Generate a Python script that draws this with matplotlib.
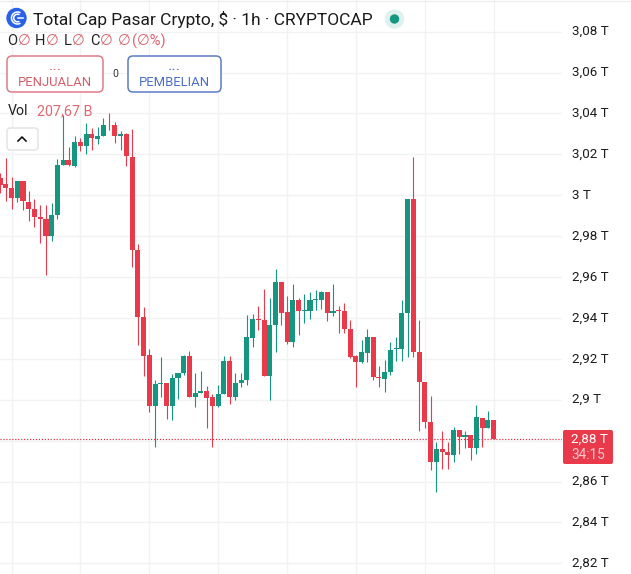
import matplotlib
matplotlib.use("Agg")
import matplotlib.pyplot as plt
import numpy as np
from matplotlib.patches import Arc, Circle, FancyBboxPatch
from matplotlib.transforms import ScaledTranslation

plt.rcParams["font.family"] = ["Roboto", "DejaVu Sans"]

# candle values in trillions
opens = [3.0084, 3.0056, 3.0036, 2.9986, 3.0071, 2.9968, 2.9934, 2.9895, 2.9885, 2.9802,
         2.9903, 3.0146, 3.0174, 3.0144, 3.0262, 3.0243, 3.0301, 3.0276, 3.0291, 3.0345,
         3.0345, 3.0288, 3.0301, 3.0189, 2.9733, 2.9404, 2.9218, 2.8971, 2.9078, 2.9081,
         2.8969, 2.9105, 2.9132, 2.9213, 2.9014, 2.9032, 2.9041, 2.9012, 2.8969, 2.9028,
         2.9190, 2.9015, 2.9082, 2.9097, 2.9303, 2.9394, 2.9390, 2.9114, 2.9366, 2.9576,
         2.9428, 2.9281, 2.9488, 2.9435, 2.9436, 2.9489, 2.9488, 2.9527, 2.9423, 2.9440,
         2.9435, 2.9346, 2.9213, 2.9183, 2.9229, 2.9307, 2.9110, 2.9104, 2.9135, 2.9246,
         2.9249, 2.9425, 2.9983, 2.9233, 2.9087, 2.8893, 2.8697, 2.8759, 2.8745, 2.8730,
         2.8851, 2.8819, 2.8826, 2.8765, 2.8912, 2.8864, 2.8899]
closes = [3.0051, 3.0037, 2.9986, 3.0071, 2.9970, 2.9932, 2.9893, 2.9886, 2.9802, 2.9903,
          3.0149, 3.0172, 3.0146, 3.0262, 3.0243, 3.0301, 3.0278, 3.0289, 3.0345, 3.0342,
          3.0288, 3.0301, 3.0190, 2.9733, 2.9407, 2.9216, 2.8971, 2.9078, 2.9082, 2.8971,
          2.9107, 2.9132, 2.9213, 2.9015, 2.9033, 2.9041, 2.9010, 2.8971, 2.9028, 2.9190,
          2.9015, 2.9082, 2.9097, 2.9307, 2.9397, 2.9389, 2.9114, 2.9366, 2.9576, 2.9426,
          2.9281, 2.9488, 2.9436, 2.9438, 2.9488, 2.9493, 2.9529, 2.9423, 2.9435, 2.9436,
          2.9346, 2.9209, 2.9183, 2.9232, 2.9307, 2.9112, 2.9105, 2.9137, 2.9243, 2.9251,
          2.9425, 2.9983, 2.9233, 2.9089, 2.8893, 2.8697, 2.8759, 2.8745, 2.8730, 2.8851,
          2.8818, 2.8826, 2.8765, 2.8914, 2.8864, 2.8899, 2.8806]
highs = [3.0108, 3.0182, 3.0089, 3.0071, 3.0071, 3.0021, 2.9983, 2.9954, 2.9954, 2.9962,
         3.0177, 3.0394, 3.0236, 3.0288, 3.0280, 3.0353, 3.0329, 3.0334, 3.0378, 3.0403,
         3.0357, 3.0312, 3.0304, 3.0324, 2.9762, 2.9453, 2.9246, 2.9097, 2.9208, 2.9081,
         2.9125, 2.9132, 2.9219, 2.9239, 2.9130, 2.9141, 2.9068, 2.9028, 2.9073, 2.9214,
         2.9214, 2.9130, 2.9130, 2.9415, 2.9420, 2.9458, 2.9540, 2.9496, 2.9639, 2.9576,
         2.9507, 2.9567, 2.9496, 2.9517, 2.9529, 2.9537, 2.9534, 2.9527, 2.9567, 2.9460,
         2.9471, 2.9390, 2.9219, 2.9292, 2.9346, 2.9307, 2.9165, 2.9195, 2.9284, 2.9305,
         2.9488, 2.9983, 3.0188, 2.9391, 2.9087, 2.9018, 2.8793, 2.8847, 2.8793, 2.8865,
         2.8851, 2.8847, 2.8826, 2.8974, 2.8912, 2.8945, 2.8899]
lows = [3.0011, 2.9970, 2.9934, 2.9965, 2.9926, 2.9872, 2.9847, 2.9769, 2.9608, 2.9777,
        2.9886, 3.0146, 3.0141, 3.0136, 3.0215, 3.0204, 3.0223, 3.0250, 3.0291, 3.0321,
        3.0258, 3.0223, 3.0141, 2.9651, 2.9267, 2.9114, 2.8941, 2.8770, 2.9015, 2.8905,
        2.8900, 2.9005, 2.9119, 2.9015, 2.8966, 2.9032, 2.8864, 2.8770, 2.8966, 2.9028,
        2.8981, 2.8999, 2.9064, 2.9073, 2.9259, 2.9341, 2.9114, 2.8999, 2.9235, 2.9366,
        2.9272, 2.9259, 2.9317, 2.9374, 2.9395, 2.9440, 2.9443, 2.9387, 2.9410, 2.9325,
        2.9328, 2.9204, 2.9063, 2.9178, 2.9185, 2.9097, 2.9063, 2.9037, 2.9123, 2.9191,
        2.9191, 2.9210, 2.9210, 2.8849, 2.8860, 2.8656, 2.8547, 2.8661, 2.8663, 2.8696,
        2.8735, 2.8764, 2.8706, 2.8735, 2.8770, 2.8864, 2.8806]

price_ticks = [3.08, 3.06, 3.04, 3.02, 3.00, 2.98, 2.96, 2.94, 2.92, 2.90, 2.88, 2.86, 2.84, 2.82]
price_labels = ["3,08 T", "3,06 T", "3,04 T", "3,02 T", "3 T", "2,98 T", "2,96 T", "2,94 T",
                "2,92 T", "2,9 T", "", "2,86 T", "2,84 T", "2,82 T"]
time_ticks = [2, 14, 26, 38, 50, 62, 74, 86]

RED = "#e83a4b"
GREEN = "#149680"
GRID = "#f1f2f4"

fig = plt.figure(figsize=(6.31, 5.74), dpi=100)
ax = fig.add_axes([0, 0, 562 / 631, 1])

idx = np.arange(len(opens))
opens = np.array(opens)
closes = np.array(closes)
colors = [GREEN if c >= o else RED for o, c in zip(opens, closes)]

ax.vlines(idx, lows, highs, colors=colors, linewidth=0.8, zorder=3)
ax.bar(idx, np.abs(closes - opens), bottom=np.minimum(opens, closes), width=0.88,
       color=colors, linewidth=0, zorder=3)
ax.axhline(closes[-1], color="#e8283b", linewidth=0.85, linestyle=(0, (1, 1.5)), zorder=2)

ax.set_xlim(-0.01, 97.9)
ax.set_ylim(2.8148, 3.0955)
ax.set_xticks(time_ticks)
ax.set_yticks(price_ticks)
ax.set_yticklabels(price_labels)
ax.grid(True, color=GRID, linewidth=1)
ax.set_axisbelow(True)
ax.tick_params(axis="x", length=0, labelbottom=False)
ax.tick_params(axis="y", length=0, left=False, labelleft=False, labelright=True, pad=7.2,
               labelsize=9.6, labelcolor="#1c1c1c")
for label in ax.get_yticklabels():
    label.set_transform(label.get_transform() + ScaledTranslation(0, 1.1 / 72, fig.dpi_scale_trans))
for side in ax.spines.values():
    side.set_visible(False)

# header and price tag, placed in pixels over the chart
over = fig.add_axes([0, 0, 1, 1])
over.set_xlim(0, 631)
over.set_ylim(574, 0)
over.axis("off")
over.patch.set_alpha(0)
over.plot([0, 631], [0.5, 0.5], color="#ececec", lw=0.8)

# logo
over.add_patch(Circle((16.5, 18), 9.5, color="#2a62e6", zorder=4))
for r, t1, t2 in [(6, 60, 300), (3.8, 60, 300)]:
    over.add_patch(Arc((17.5, 18), 2 * r, 2 * r, theta1=t1, theta2=t2, color="white", lw=1.1, zorder=5))
over.plot([17.5, 23], [18, 18], color="white", lw=1.1, zorder=5)

over.text(33, 19, "Total Cap Pasar Crypto, $ · 1h · CRYPTOCAP", fontsize=12.55, color="#1b1b1b",
          va="center", ha="left")
over.add_patch(Circle((394.5, 19), 9, color="#dff1ee", zorder=4))
over.add_patch(Circle((394.5, 19), 4, color="#149680", zorder=5))

# OHLC line
SOFT_RED = "#d9626c"
for x, s, col in [(7, "O", "#222222"), (18, "∅", SOFT_RED), (35, "H", "#222222"), (46, "∅", SOFT_RED),
                  (64, "L", "#222222"), (72, "∅", SOFT_RED), (90, "C", "#222222"), (100, "∅", SOFT_RED),
                  (118, "∅", SOFT_RED), (132, "(∅%)", SOFT_RED)]:
    over.text(x, 41, s, fontsize=10.5, color=col, va="center", ha="left")

# sell and buy buttons
over.add_patch(FancyBboxPatch((7, 56), 96, 36, boxstyle="round,pad=0,rounding_size=5",
                              fc="white", ec="#df7c88", lw=1.1, zorder=4))
over.text(55, 65.5, "...", fontsize=12, color=SOFT_RED, ha="center", va="center", zorder=5)
over.text(55, 82, "PENJUALAN", fontsize=9.4, color="#d2606c", ha="center", va="center", zorder=5)
over.text(115, 74, "0", fontsize=7.5, color="#333333", ha="center", va="center")
over.add_patch(FancyBboxPatch((128, 56), 93, 36, boxstyle="round,pad=0,rounding_size=5",
                              fc="white", ec="#5b7cc4", lw=1.1, zorder=4))
over.text(174, 65.5, "...", fontsize=12, color="#4a70c4", ha="center", va="center", zorder=5)
over.text(174, 82, "PEMBELIAN", fontsize=9.4, color="#4a70c4", ha="center", va="center", zorder=5)

# volume
over.text(8, 111, "Vol", fontsize=10.2, color="#222222", va="center", ha="left", zorder=5)
over.text(37, 111, "207,67 B", fontsize=10.4, color="#dc6a70", va="center", ha="left", zorder=5)

# collapse button
over.add_patch(FancyBboxPatch((7, 128), 31, 22, boxstyle="round,pad=0,rounding_size=3",
                              fc="white", ec="#e2e2e2", lw=1, zorder=4))
over.plot([18, 22, 26], [141, 137, 141], color="#111111", lw=1.2, zorder=5)

# last price tag
over.add_patch(FancyBboxPatch((563, 430), 50, 34, boxstyle="round,pad=0,rounding_size=2",
                              fc=RED, ec="none", zorder=4))
over.text(589.5, 439, "2,88 T", fontsize=9.6, color="white", ha="center", va="center", zorder=5)
over.text(588.5, 455, "34:15", fontsize=9.8, color="#f9c6cc", ha="center", va="center", zorder=5)

fig.savefig("out.png", dpi=100)
